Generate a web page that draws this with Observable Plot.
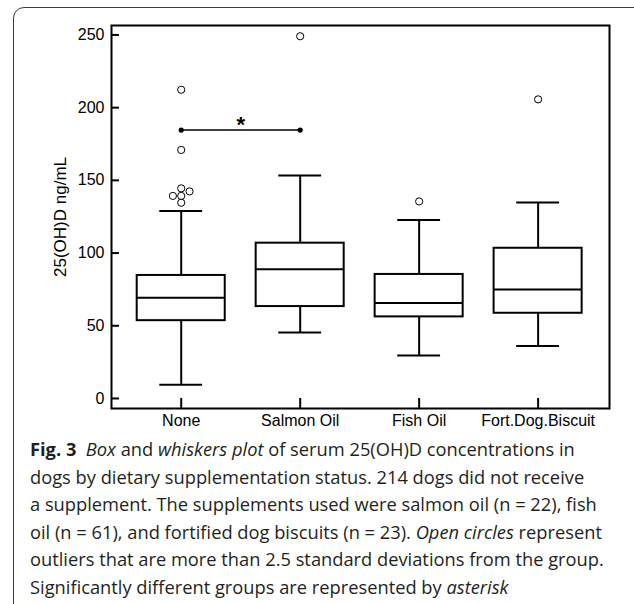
<!DOCTYPE html>
<html><head><meta charset="utf-8">
<script src="https://cdn.jsdelivr.net/npm/d3@7"></script>
<script src="https://cdn.jsdelivr.net/npm/@observablehq/plot@0.6"></script>
<style>
html,body{margin:0;padding:0;background:#fff;width:634px;height:604px;overflow:hidden;}
#wrap{position:relative;width:634px;height:604px;overflow:hidden;}
#border{position:absolute;left:13px;top:7px;width:660px;height:640px;border:1px solid #3a3a3a;border-radius:11px;box-sizing:border-box;}
#chart{position:absolute;left:0;top:0;}
#caption{position:absolute;left:30px;top:435px;font-family:"Open Sans",sans-serif;font-size:18.3px;line-height:27.6px;color:#231f20;white-space:nowrap;}
#caption b{font-weight:700;}
</style></head><body>
<div id="wrap"><div id="border"></div><div id="chart"></div>
<div id="caption"><b>Fig. 3</b>&nbsp;&nbsp;<i>Box</i> and <i>whiskers plot</i> of serum 25(OH)D concentrations in<br>dogs by dietary supplementation status. 214 dogs did not receive<br>a supplement. The supplements used were salmon oil (n&nbsp;=&nbsp;22), fish<br>oil (n&nbsp;=&nbsp;61), and fortified dog biscuits (n&nbsp;=&nbsp;23). <i>Open circles</i> represent<br>outliers that are more than 2.5 standard deviations from the group.<br>Significantly different groups are represented by <i>asterisk</i></div>
</div>
<script>
const categories = ["None", "Salmon Oil", "Fish Oil", "Fort.Dog.Biscuit"];
const whiskerLow = [9.5, 45.3, 29.6, 36.0];
const q1 = [53.5, 63.2, 56.1, 58.6];
const median = [69.2, 88.9, 65.7, 74.9];
const q3 = [84.6, 106.8, 85.3, 103.3];
const whiskerHigh = [128.9, 153.3, 122.8, 134.7];
const outlierGroup = ["None", "None", "None", "None", "None", "None", "None", "Salmon Oil", "Fish Oil", "Fort.Dog.Biscuit"];
const outlierValue = [212.3, 170.9, 144.5, 142.4, 139.3, 139.3, 134.6, 249.1, 135.5, 205.7];
const outlierColumn = [0, 0, 0, 1, -1, 0, 0, 0, 0, 0];
const yTicks = [0, 50, 100, 150, 200, 250];
const sigPair = ["None", "Salmon Oil"];
const sigValue = 184.6;
const sigLabel = "*";
const yLabel = "25(OH)D ng/mL";

const xDomain = [-0.586, 3.6];
const yDomain = [-6.9, 256.5];
const idx = c => categories.indexOf(c);
const boxes = categories.map((c, i) => ({c, i, lo: whiskerLow[i], q1: q1[i], med: median[i], q3: q3[i], hi: whiskerHigh[i]}));
const outliers = outlierValue.map((v, k) => ({i: idx(outlierGroup[k]), v, col: outlierColumn[k]}));
const sig = [{a: idx(sigPair[0]), b: idx(sigPair[1]), v: sigValue}];
const halfBox = 0.37, halfCap = 0.18, colStep = 0.07;
const xUnitPx = 118.93, yUnitPx = 1.455;

const plot = Plot.plot({
  width: 634, height: 440,
  marginLeft: 111, marginRight: 25, marginTop: 25, marginBottom: 32,
  style: {fontFamily: '"Liberation Sans", Arial, sans-serif', fontSize: "16px", color: "#000", background: "transparent", overflow: "visible"},
  x: {domain: xDomain, axis: null},
  y: {domain: yDomain, axis: null},
  marks: [
    Plot.axisY(yTicks, {tickSize: 0, tickPadding: 7, fontSize: 16, label: null}),
    Plot.axisX(categories.map((c, i) => i), {tickSize: 0, tickPadding: 6, tickFormat: i => categories[i], fontSize: 16, label: null}),
    Plot.ruleY(yTicks, {x1: xDomain[0], x2: xDomain[0] + 8 / xUnitPx, strokeWidth: 2}),
    Plot.ruleX(categories.map((c, i) => i), {y1: yDomain[0], y2: yDomain[0] + 10 / yUnitPx, strokeWidth: 2}),
    Plot.ruleX(boxes, {x: "i", y1: "q3", y2: "hi", strokeWidth: 2}),
    Plot.ruleX(boxes, {x: "i", y1: "lo", y2: "q1", strokeWidth: 2}),
    Plot.ruleY(boxes, {y: "hi", x1: d => d.i - halfCap, x2: d => d.i + halfCap, strokeWidth: 2}),
    Plot.ruleY(boxes, {y: "lo", x1: d => d.i - halfCap, x2: d => d.i + halfCap, strokeWidth: 2}),
    Plot.rect(boxes, {x1: d => d.i - halfBox, x2: d => d.i + halfBox, y1: "q1", y2: "q3", fill: "white", stroke: "black", strokeWidth: 2}),
    Plot.ruleY(boxes, {y: "med", x1: d => d.i - halfBox, x2: d => d.i + halfBox, strokeWidth: 2}),
    Plot.dot(outliers, {x: d => d.i + d.col * colStep, y: "v", r: 3.6, fill: "white", stroke: "black", strokeWidth: 1}),
    Plot.link(sig, {x1: "a", x2: "b", y1: "v", y2: "v", stroke: "black", strokeWidth: 1.5}),
    Plot.dot(sig, {x: "a", y: "v", r: 2.6, fill: "black"}),
    Plot.dot(sig, {x: "b", y: "v", r: 2.6, fill: "black"}),
    Plot.text(sig, {x: d => (d.a + d.b) / 2, y: "v", text: () => sigLabel, fontSize: 22, fontWeight: "bold", dy: -5}),
    Plot.text([yLabel], {text: d => d, frameAnchor: "left", textAnchor: "middle", rotate: -90, dx: -51, fontSize: 17}),
    Plot.frame({stroke: "black", strokeWidth: 2})
  ]
});
document.getElementById("chart").appendChild(plot);
</script>
</body></html>
